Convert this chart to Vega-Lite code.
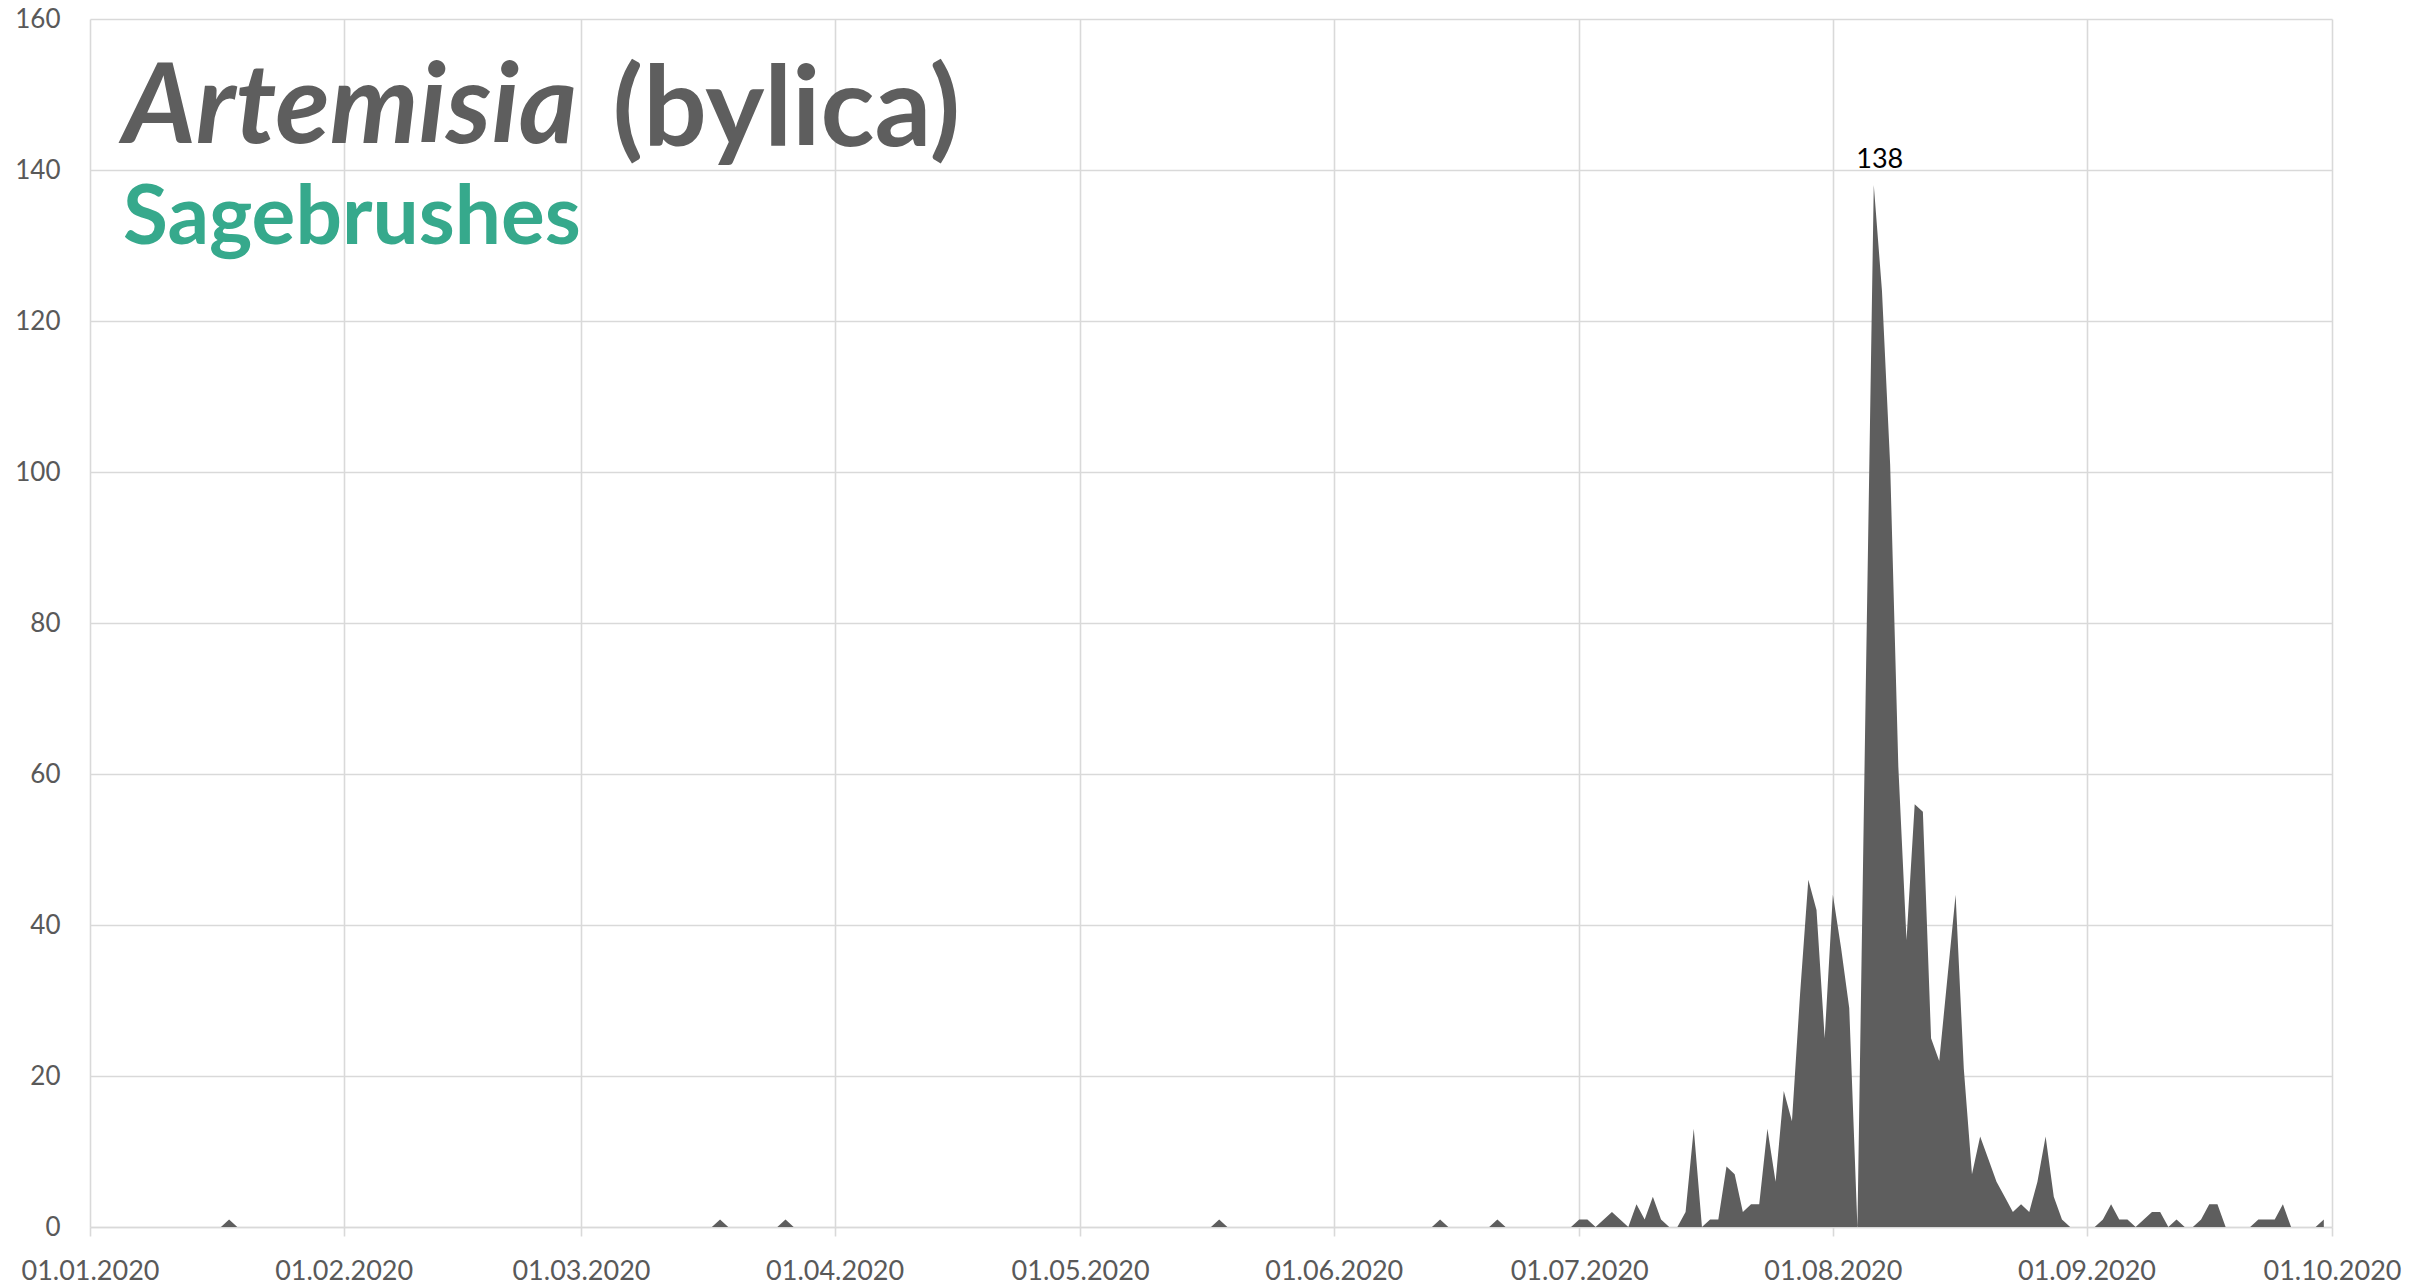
{
  "$schema": "https://vega.github.io/schema/vega-lite/v6.json",
  "width": 2242,
  "height": 1208,
  "autosize": {"type": "none"},
  "padding": {"left": 90, "top": 19, "right": 103, "bottom": 59},
  "background": "white",
  "config": {"font": "Lato", "view": {"stroke": null}},
  "title": {
    "text": "Artemisia",
    "subtitle": "Sagebrushes",
    "anchor": "start",
    "frame": "group",
    "orient": "top",
    "offset": 0,
    "dx": 33,
    "dy": 256,
    "font": "Lato",
    "fontSize": 112,
    "fontWeight": "bold",
    "fontStyle": "italic",
    "color": "#5e5e5e",
    "subtitleFont": "Lato",
    "subtitleFontSize": 82,
    "subtitleFontWeight": "bold",
    "subtitleColor": "#36A98C",
    "subtitlePadding": 12
  },
  "data": {"values": [
    {"date":"2020-01-01","v":0},{"date":"2020-01-02","v":0},{"date":"2020-01-03","v":0},{"date":"2020-01-04","v":0},{"date":"2020-01-05","v":0},{"date":"2020-01-06","v":0},{"date":"2020-01-07","v":0},{"date":"2020-01-08","v":0},{"date":"2020-01-09","v":0},{"date":"2020-01-10","v":0},
    {"date":"2020-01-11","v":0},{"date":"2020-01-12","v":0},{"date":"2020-01-13","v":0},{"date":"2020-01-14","v":0},{"date":"2020-01-15","v":0},{"date":"2020-01-16","v":0},{"date":"2020-01-17","v":0},{"date":"2020-01-18","v":1},{"date":"2020-01-19","v":0},{"date":"2020-01-20","v":0},
    {"date":"2020-01-21","v":0},{"date":"2020-01-22","v":0},{"date":"2020-01-23","v":0},{"date":"2020-01-24","v":0},{"date":"2020-01-25","v":0},{"date":"2020-01-26","v":0},{"date":"2020-01-27","v":0},{"date":"2020-01-28","v":0},{"date":"2020-01-29","v":0},{"date":"2020-01-30","v":0},{"date":"2020-01-31","v":0},
    {"date":"2020-02-01","v":0},{"date":"2020-02-02","v":0},{"date":"2020-02-03","v":0},{"date":"2020-02-04","v":0},{"date":"2020-02-05","v":0},{"date":"2020-02-06","v":0},{"date":"2020-02-07","v":0},{"date":"2020-02-08","v":0},{"date":"2020-02-09","v":0},{"date":"2020-02-10","v":0},
    {"date":"2020-02-11","v":0},{"date":"2020-02-12","v":0},{"date":"2020-02-13","v":0},{"date":"2020-02-14","v":0},{"date":"2020-02-15","v":0},{"date":"2020-02-16","v":0},{"date":"2020-02-17","v":0},{"date":"2020-02-18","v":0},{"date":"2020-02-19","v":0},{"date":"2020-02-20","v":0},
    {"date":"2020-02-21","v":0},{"date":"2020-02-22","v":0},{"date":"2020-02-23","v":0},{"date":"2020-02-24","v":0},{"date":"2020-02-25","v":0},{"date":"2020-02-26","v":0},{"date":"2020-02-27","v":0},{"date":"2020-02-28","v":0},{"date":"2020-02-29","v":0},
    {"date":"2020-03-01","v":0},{"date":"2020-03-02","v":0},{"date":"2020-03-03","v":0},{"date":"2020-03-04","v":0},{"date":"2020-03-05","v":0},{"date":"2020-03-06","v":0},{"date":"2020-03-07","v":0},{"date":"2020-03-08","v":0},{"date":"2020-03-09","v":0},{"date":"2020-03-10","v":0},
    {"date":"2020-03-11","v":0},{"date":"2020-03-12","v":0},{"date":"2020-03-13","v":0},{"date":"2020-03-14","v":0},{"date":"2020-03-15","v":0},{"date":"2020-03-16","v":0},{"date":"2020-03-17","v":0},{"date":"2020-03-18","v":1},{"date":"2020-03-19","v":0},{"date":"2020-03-20","v":0},
    {"date":"2020-03-21","v":0},{"date":"2020-03-22","v":0},{"date":"2020-03-23","v":0},{"date":"2020-03-24","v":0},{"date":"2020-03-25","v":0},{"date":"2020-03-26","v":1},{"date":"2020-03-27","v":0},{"date":"2020-03-28","v":0},{"date":"2020-03-29","v":0},{"date":"2020-03-30","v":0},{"date":"2020-03-31","v":0},
    {"date":"2020-04-01","v":0},{"date":"2020-04-02","v":0},{"date":"2020-04-03","v":0},{"date":"2020-04-04","v":0},{"date":"2020-04-05","v":0},{"date":"2020-04-06","v":0},{"date":"2020-04-07","v":0},{"date":"2020-04-08","v":0},{"date":"2020-04-09","v":0},{"date":"2020-04-10","v":0},
    {"date":"2020-04-11","v":0},{"date":"2020-04-12","v":0},{"date":"2020-04-13","v":0},{"date":"2020-04-14","v":0},{"date":"2020-04-15","v":0},{"date":"2020-04-16","v":0},{"date":"2020-04-17","v":0},{"date":"2020-04-18","v":0},{"date":"2020-04-19","v":0},{"date":"2020-04-20","v":0},
    {"date":"2020-04-21","v":0},{"date":"2020-04-22","v":0},{"date":"2020-04-23","v":0},{"date":"2020-04-24","v":0},{"date":"2020-04-25","v":0},{"date":"2020-04-26","v":0},{"date":"2020-04-27","v":0},{"date":"2020-04-28","v":0},{"date":"2020-04-29","v":0},{"date":"2020-04-30","v":0},
    {"date":"2020-05-01","v":0},{"date":"2020-05-02","v":0},{"date":"2020-05-03","v":0},{"date":"2020-05-04","v":0},{"date":"2020-05-05","v":0},{"date":"2020-05-06","v":0},{"date":"2020-05-07","v":0},{"date":"2020-05-08","v":0},{"date":"2020-05-09","v":0},{"date":"2020-05-10","v":0},
    {"date":"2020-05-11","v":0},{"date":"2020-05-12","v":0},{"date":"2020-05-13","v":0},{"date":"2020-05-14","v":0},{"date":"2020-05-15","v":0},{"date":"2020-05-16","v":0},{"date":"2020-05-17","v":0},{"date":"2020-05-18","v":1},{"date":"2020-05-19","v":0},{"date":"2020-05-20","v":0},
    {"date":"2020-05-21","v":0},{"date":"2020-05-22","v":0},{"date":"2020-05-23","v":0},{"date":"2020-05-24","v":0},{"date":"2020-05-25","v":0},{"date":"2020-05-26","v":0},{"date":"2020-05-27","v":0},{"date":"2020-05-28","v":0},{"date":"2020-05-29","v":0},{"date":"2020-05-30","v":0},{"date":"2020-05-31","v":0},
    {"date":"2020-06-01","v":0},{"date":"2020-06-02","v":0},{"date":"2020-06-03","v":0},{"date":"2020-06-04","v":0},{"date":"2020-06-05","v":0},{"date":"2020-06-06","v":0},{"date":"2020-06-07","v":0},{"date":"2020-06-08","v":0},{"date":"2020-06-09","v":0},{"date":"2020-06-10","v":0},
    {"date":"2020-06-11","v":0},{"date":"2020-06-12","v":0},{"date":"2020-06-13","v":0},{"date":"2020-06-14","v":1},{"date":"2020-06-15","v":0},{"date":"2020-06-16","v":0},{"date":"2020-06-17","v":0},{"date":"2020-06-18","v":0},{"date":"2020-06-19","v":0},{"date":"2020-06-20","v":0},
    {"date":"2020-06-21","v":1},{"date":"2020-06-22","v":0},{"date":"2020-06-23","v":0},{"date":"2020-06-24","v":0},{"date":"2020-06-25","v":0},{"date":"2020-06-26","v":0},{"date":"2020-06-27","v":0},{"date":"2020-06-28","v":0},{"date":"2020-06-29","v":0},{"date":"2020-06-30","v":0},
    {"date":"2020-07-01","v":1},{"date":"2020-07-02","v":1},{"date":"2020-07-03","v":0},{"date":"2020-07-04","v":1},{"date":"2020-07-05","v":2},{"date":"2020-07-06","v":1},{"date":"2020-07-07","v":0},{"date":"2020-07-08","v":3},{"date":"2020-07-09","v":1},{"date":"2020-07-10","v":4},
    {"date":"2020-07-11","v":1},{"date":"2020-07-12","v":0},{"date":"2020-07-13","v":0},{"date":"2020-07-14","v":2},{"date":"2020-07-15","v":13},{"date":"2020-07-16","v":0},{"date":"2020-07-17","v":1},{"date":"2020-07-18","v":1},{"date":"2020-07-19","v":8},{"date":"2020-07-20","v":7},
    {"date":"2020-07-21","v":2},{"date":"2020-07-22","v":3},{"date":"2020-07-23","v":3},{"date":"2020-07-24","v":13},{"date":"2020-07-25","v":6},{"date":"2020-07-26","v":18},{"date":"2020-07-27","v":14},{"date":"2020-07-28","v":31},{"date":"2020-07-29","v":46},{"date":"2020-07-30","v":42},{"date":"2020-07-31","v":25},
    {"date":"2020-08-01","v":44},{"date":"2020-08-02","v":37},{"date":"2020-08-03","v":29},{"date":"2020-08-04","v":0},{"date":"2020-08-05","v":70},{"date":"2020-08-06","v":138},{"date":"2020-08-07","v":124},{"date":"2020-08-08","v":101},{"date":"2020-08-09","v":61},{"date":"2020-08-10","v":38},
    {"date":"2020-08-11","v":56},{"date":"2020-08-12","v":55},{"date":"2020-08-13","v":25},{"date":"2020-08-14","v":22},{"date":"2020-08-15","v":33},{"date":"2020-08-16","v":44},{"date":"2020-08-17","v":21},{"date":"2020-08-18","v":7},{"date":"2020-08-19","v":12},{"date":"2020-08-20","v":9},
    {"date":"2020-08-21","v":6},{"date":"2020-08-22","v":4},{"date":"2020-08-23","v":2},{"date":"2020-08-24","v":3},{"date":"2020-08-25","v":2},{"date":"2020-08-26","v":6},{"date":"2020-08-27","v":12},{"date":"2020-08-28","v":4},{"date":"2020-08-29","v":1},{"date":"2020-08-30","v":0},{"date":"2020-08-31","v":0},
    {"date":"2020-09-01","v":0},{"date":"2020-09-02","v":0},{"date":"2020-09-03","v":1},{"date":"2020-09-04","v":3},{"date":"2020-09-05","v":1},{"date":"2020-09-06","v":1},{"date":"2020-09-07","v":0},{"date":"2020-09-08","v":1},{"date":"2020-09-09","v":2},{"date":"2020-09-10","v":2},
    {"date":"2020-09-11","v":0},{"date":"2020-09-12","v":1},{"date":"2020-09-13","v":0},{"date":"2020-09-14","v":0},{"date":"2020-09-15","v":1},{"date":"2020-09-16","v":3},{"date":"2020-09-17","v":3},{"date":"2020-09-18","v":0},{"date":"2020-09-19","v":0},{"date":"2020-09-20","v":0},
    {"date":"2020-09-21","v":0},{"date":"2020-09-22","v":1},{"date":"2020-09-23","v":1},{"date":"2020-09-24","v":1},{"date":"2020-09-25","v":3},{"date":"2020-09-26","v":0},{"date":"2020-09-27","v":0},{"date":"2020-09-28","v":0},{"date":"2020-09-29","v":0},{"date":"2020-09-30","v":1}
  ]},
  "encoding": {
    "x": {
      "field": "date",
      "type": "temporal",
      "scale": {"type": "utc", "domain": [{"year": 2020, "month": 1, "date": 1, "utc": true}, {"year": 2020, "month": 10, "date": 1, "utc": true}]},
      "axis": {
        "title": null,
        "format": "%d.%m.%Y",
        "tickCount": {"interval": "month", "step": 1},
        "grid": true,
        "gridColor": "#d9d9d9",
        "gridWidth": 1.6,
        "domain": true,
        "domainColor": "#d9d9d9",
        "domainWidth": 1.6,
        "ticks": true,
        "tickColor": "#d9d9d9",
        "tickWidth": 1.6,
        "tickSize": 9,
        "labelPadding": 22,
        "labelFont": "Lato",
        "labelFontSize": 27,
        "labelColor": "#595959",
        "labelOverlap": false,
        "labelFlush": false,
        "labelBound": false
      }
    },
    "y": {
      "field": "v",
      "type": "quantitative",
      "scale": {"domain": [0, 160], "nice": false},
      "axis": {
        "values": [0, 20, 40, 60, 80, 100, 120, 140, 160],
        "title": "(bylica)",
        "titleAngle": 0,
        "titleX": 522,
        "titleY": 126,
        "titleAlign": "left",
        "titleBaseline": "alphabetic",
        "titleFont": "Lato",
        "titleFontSize": 112,
        "titleFontWeight": "bold",
        "titleColor": "#5e5e5e",
        "ticks": false,
        "domain": false,
        "grid": true,
        "gridColor": "#d9d9d9",
        "gridWidth": 1.6,
        "labelPadding": 30,
        "labelFont": "Lato",
        "labelFontSize": 26,
        "labelColor": "#595959"
      }
    }
  },
  "layer": [
    {"mark": {"type": "area", "color": "#5e5e5e", "interpolate": "linear", "opacity": 1}},
    {
      "transform": [{"filter": "datum.v == 138"}],
      "mark": {"type": "text", "font": "Lato", "fontSize": 27, "color": "#000000", "baseline": "bottom", "align": "center", "dx": 6, "dy": -11},
      "encoding": {"text": {"field": "v", "type": "quantitative"}}
    }
  ]
}
